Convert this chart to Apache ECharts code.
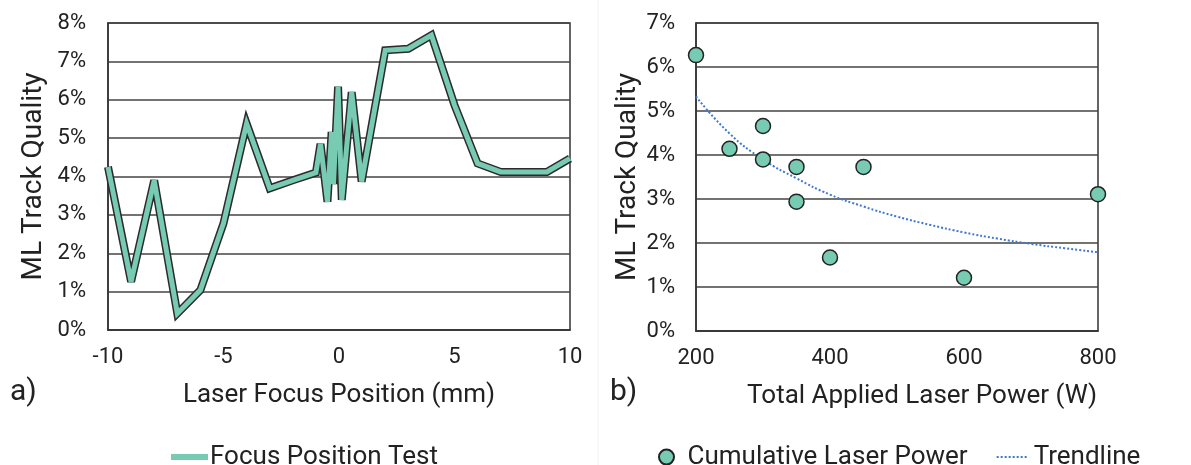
<!DOCTYPE html>
<html>
<head>
<meta charset="utf-8">
<script src="https://cdn.jsdelivr.net/npm/echarts@6/dist/echarts.min.js"></script>
<style>
  html, body { margin: 0; padding: 0; background: #fff; }
  #chart { width: 1191px; height: 465px; }
</style>
</head>
<body>
<div id="chart"></div>
<script>
// a) focus position test
const focusPos = [-10, -9, -8, -7, -6, -5, -4, -3, -2, -1, -0.8, -0.5, -0.32, -0.24, -0.04, 0.12, 0.55, 0.98, 2, 3, 4, 5, 6, 7, 8, 9, 10];
const focusQuality = [4.25, 1.26, 3.9, 0.43, 1.04, 2.78, 5.38, 3.69, 3.9, 4.1, 4.85, 3.34, 5.16, 3.8, 6.34, 3.39, 6.2, 3.87, 7.29, 7.33, 7.68, 5.86, 4.34, 4.12, 4.12, 4.12, 4.47];

// b) cumulative laser power
const laserPower = [200, 250, 300, 300, 350, 350, 400, 450, 600, 800];
const powerQuality = [6.27, 4.14, 4.66, 3.9, 3.73, 2.94, 1.67, 3.73, 1.21, 3.11];

// trendline
const trendPower = [200, 250, 300, 350, 400, 450, 500, 550, 600, 650, 700, 750, 800];
const trendQuality = [5.33, 4.49, 3.9, 3.47, 3.1, 2.83, 2.6, 2.41, 2.24, 2.1, 1.98, 1.88, 1.79];

const teal = '#78cbb3';
const dark = '#2b2b2b';
const font = 'Roboto';

const pairs = (xs, ys) => xs.map((x, i) => [x, ys[i]]);

let myecharts = echarts.init(document.getElementById('chart'));

const tickLabel = { color: '#222', fontSize: 22, fontFamily: font };
const nameStyle = { color: '#222', fontSize: 26, fontFamily: font };
const yNameStyle = { color: '#222', fontSize: 28, fontFamily: font };
const splitLine = { show: true, lineStyle: { color: '#444', width: 1.5 } };
const axisLine = { show: true, onZero: false, lineStyle: { color: '#333', width: 1.5 } };

let option = {
  animation: false,
  textStyle: { fontFamily: font },
  grid: [
    { left: 108, top: 23, width: 462, height: 307, show: true, borderColor: '#333', borderWidth: 1.5 },
    { left: 696, top: 23, width: 402, height: 308, show: true, borderColor: '#333', borderWidth: 1.5 }
  ],
  xAxis: [
    {
      gridIndex: 0, type: 'value', min: -10, max: 10, interval: 5,
      name: 'Laser Focus Position (mm)', nameLocation: 'middle', nameGap: 52, nameTextStyle: nameStyle,
      axisLine: axisLine, axisTick: { show: false }, splitLine: { show: false },
      axisLabel: Object.assign({ margin: 16 }, tickLabel)
    },
    {
      gridIndex: 1, type: 'value', min: 200, max: 800, interval: 200,
      name: 'Total Applied Laser Power (W)', nameLocation: 'middle', nameGap: 52,
      nameTextStyle: Object.assign({ padding: [0, 0, 0, 50] }, nameStyle),
      axisLine: axisLine, axisTick: { show: false }, splitLine: { show: false },
      axisLabel: Object.assign({ margin: 16 }, tickLabel)
    }
  ],
  yAxis: [
    {
      gridIndex: 0, type: 'value', min: 0, max: 8, interval: 1,
      name: 'ML Track Quality', nameLocation: 'middle', nameGap: 60, nameTextStyle: yNameStyle,
      axisLine: axisLine, axisTick: { show: false }, splitLine: splitLine,
      axisLabel: Object.assign({ margin: 22, formatter: '{value}%' }, tickLabel)
    },
    {
      gridIndex: 1, type: 'value', min: 0, max: 7, interval: 1,
      name: 'ML Track Quality', nameLocation: 'middle', nameGap: 54, nameTextStyle: yNameStyle,
      axisLine: axisLine, axisTick: { show: false }, splitLine: splitLine,
      axisLabel: Object.assign({ margin: 21, formatter: '{value}%' }, tickLabel)
    }
  ],
  legend: [
    {
      data: [{ name: 'Focus Position Test', itemStyle: { opacity: 0 }, lineStyle: { width: 6 } }],
      left: 163, top: 439,
      itemWidth: 37, itemHeight: 14, itemGap: 4,
      textStyle: { color: '#222', fontSize: 26, fontFamily: font, padding: [0, 0, 0, -3] }
    },
    {
      data: ['Cumulative Laser Power', { name: 'Trendline', itemStyle: { opacity: 0 } }],
      left: 653, top: 439,
      itemWidth: 32, itemHeight: 15, itemGap: 28,
      textStyle: { color: '#222', fontSize: 26, fontFamily: font }
    }
  ],
  graphic: [
    { type: 'line', shape: { x1: 598, y1: 0, x2: 598, y2: 465 }, style: { stroke: '#f2f2f2', lineWidth: 1 } },
    { type: 'text', left: 10, top: 377, style: { text: 'a)', fontSize: 30, fontFamily: font, fill: '#222' } },
    { type: 'text', left: 610, top: 377, style: { text: 'b)', fontSize: 30, fontFamily: font, fill: '#222' } }
  ],
  series: [
    {
      name: 'outline', type: 'line', xAxisIndex: 0, yAxisIndex: 0,
      data: pairs(focusPos, focusQuality), showSymbol: false, symbol: 'none',
      lineStyle: { color: dark, width: 8, join: 'miter', miterLimit: 4 }, z: 3
    },
    {
      name: 'Focus Position Test', type: 'line', xAxisIndex: 0, yAxisIndex: 0,
      data: pairs(focusPos, focusQuality), showSymbol: false, symbol: 'none',
      itemStyle: { color: teal },
      lineStyle: { color: teal, width: 5, join: 'miter', miterLimit: 4 }, z: 4
    },
    {
      name: 'Trendline', type: 'line', xAxisIndex: 1, yAxisIndex: 1,
      data: pairs(trendPower, trendQuality), smooth: true, showSymbol: false, symbol: 'none',
      itemStyle: { color: '#3f78d0' },
      lineStyle: { color: '#3f78d0', width: 2, type: 'dotted' }, z: 3
    },
    {
      name: 'Cumulative Laser Power', type: 'scatter', xAxisIndex: 1, yAxisIndex: 1,
      data: pairs(laserPower, powerQuality), symbolSize: 15, clip: false,
      itemStyle: { color: teal, borderColor: '#222', borderWidth: 1.5, opacity: 1 }, z: 5
    }
  ]
};

myecharts.setOption(option);
</script>
</body>
</html>
